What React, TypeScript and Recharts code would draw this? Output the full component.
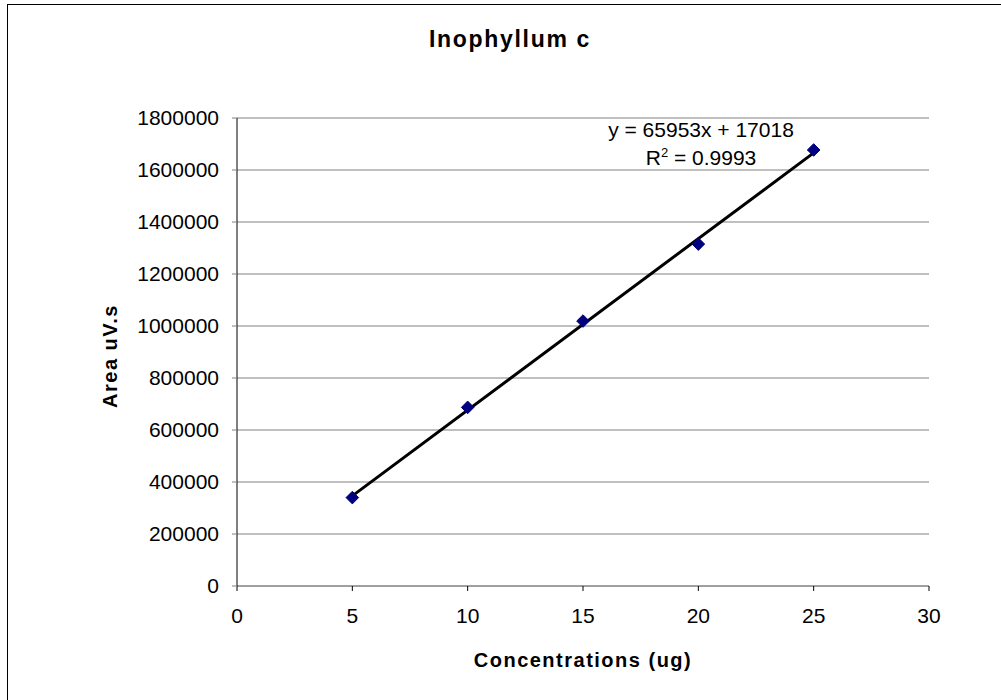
import React from 'react';
import { ComposedChart, Scatter, Line, XAxis, YAxis, CartesianGrid } from 'recharts';

const concentrations = [5, 10, 15, 20, 25];
const areas = [340000, 687000, 1019000, 1315000, 1677000];
const xTicks = [0, 5, 10, 15, 20, 25, 30];
const yTicks = [0, 200000, 400000, 600000, 800000, 1000000, 1200000, 1400000, 1600000, 1800000];

// trendline as printed on the chart
const slope = 65953;
const intercept = 17018;
const rSquared = '0.9993';

const FONT = '"Liberation Sans", Arial, sans-serif';

const points = concentrations.map((x, i) => ({ x, y: areas[i] }));
const trend = [concentrations[0], concentrations[concentrations.length - 1]].map((x) => ({
  x,
  y: slope * x + intercept,
}));

const Diamond = (props: any) => {
  const { cx, cy } = props;
  const r = 6.3;
  return (
    <path
      d={`M${cx},${cy - r} L${cx + r},${cy} L${cx},${cy + r} L${cx - r},${cy} Z`}
      fill="#000080"
      stroke="#000080"
    />
  );
};

export default function App() {
  return (
    <div style={{ position: 'absolute', left: 0, top: 0, width: 1001, height: 700, background: '#fff', fontFamily: FONT }}>
      <ComposedChart
        width={1001}
        height={700}
        margin={{ top: 118, right: 72, bottom: 54, left: 0 }}
      >
        <CartesianGrid vertical={false} stroke="#808080" strokeWidth={1} />
        <XAxis
          type="number"
          dataKey="x"
          domain={[0, 30]}
          ticks={xTicks}
          height={60}
          allowDuplicatedCategory={false}
          stroke="#808080"
          tickSize={5}
          tickMargin={17}
          tickLine={{ stroke: '#000' }}
          tick={{ fill: '#000', fontSize: 21, fontFamily: FONT }}
        />
        <YAxis
          type="number"
          dataKey="y"
          domain={[0, 1800000]}
          ticks={yTicks}
          width={237}
          stroke="#000"
          tickSize={5}
          tickMargin={13}
          tickLine={{ stroke: '#808080' }}
          tick={{ fill: '#000', fontSize: 21, fontFamily: FONT }}
        />
        <Scatter data={points} shape={<Diamond />} isAnimationActive={false} />
        <Line
          data={trend}
          dataKey="y"
          stroke="#000"
          strokeWidth={3}
          dot={false}
          activeDot={false}
          isAnimationActive={false}
        />
      </ComposedChart>
      <svg
        width={1001}
        height={700}
        style={{ position: 'absolute', left: 0, top: 0, pointerEvents: 'none' }}
        fontFamily={FONT}
      >
        <rect x={7.5} y={4.5} width={1000} height={700} fill="none" stroke="#000" strokeWidth={1} />
        <text x={510} y={46.7} textAnchor="middle" fontSize={23} fontWeight="bold" letterSpacing={1.7}>
          Inophyllum c
        </text>
        <text x={583} y={667} textAnchor="middle" fontSize={20} fontWeight="bold" letterSpacing={1.5}>
          Concentrations (ug)
        </text>
        <text
          x={116.5}
          y={356}
          transform="rotate(-90 116.5 356)"
          textAnchor="middle"
          fontSize={20}
          fontWeight="bold"
          letterSpacing={1.5}
        >
          Area uV.s
        </text>
        <text x={701} y={137} textAnchor="middle" fontSize={21}>
          y = 65953x + 17018
        </text>
        <text x={701} y={165} textAnchor="middle" fontSize={21}>
          R<tspan fontSize={13} dy={-8}>2</tspan>
          <tspan dy={8}> = {rSquared}</tspan>
        </text>
      </svg>
    </div>
  );
}
